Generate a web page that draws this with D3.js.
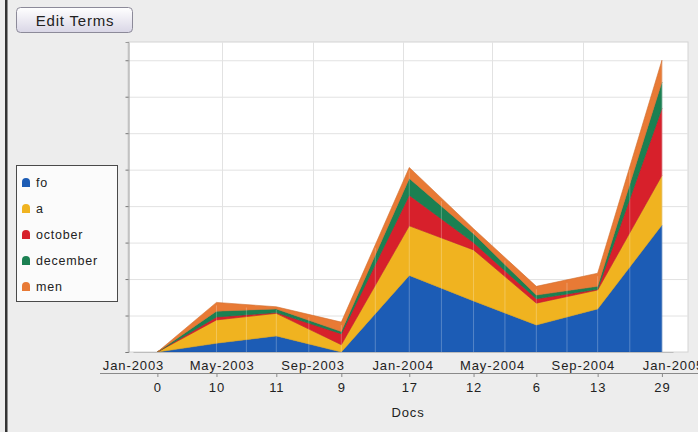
<!DOCTYPE html>
<html>
<head>
<meta charset="utf-8">
<script src="https://cdn.jsdelivr.net/npm/d3@7/dist/d3.min.js"></script>
<style>
  html, body { margin: 0; padding: 0; background: #ededed; }
  svg { display: block; }
  text { font-family: "Liberation Sans", Arial, sans-serif; fill: #222; }
</style>
</head>
<body>
<svg id="chart" width="698" height="432"></svg>
<script>
// ---- data ----
const dates = ["2003-02-03", "2003-04-24", "2003-07-14", "2003-10-10", "2004-01-10",
               "2004-04-06", "2004-06-30", "2004-09-21", "2004-12-17"];
const docs = [0, 10, 11, 9, 17, 12, 6, 13, 29];
const terms = ["fo", "a", "october", "december", "men"];
const fo       = [0, 1.2, 2.2, 0.0, 10.5, 7.0, 3.7, 5.9, 17.4];
const a        = [0, 3.2, 3.1, 1.0, 6.8, 7.0, 3.0, 2.6, 6.8];
const october  = [0, 0.4, 0.1, 1.5, 4.2, 1.0, 0.6, 0.1, 9.2];
const december = [0, 0.8, 0.5, 0.3, 2.3, 1.2, 0.5, 0.4, 3.6];
const men      = [0, 1.2, 0.3, 1.3, 1.5, 0.7, 1.2, 1.8, 3.0];
const dateTicks = ["2003-01-01", "2003-05-01", "2003-09-01", "2004-01-01",
                   "2004-05-01", "2004-09-01", "2005-01-01"];
const yTicks = [0, 5, 10, 15, 20, 25, 30, 35, 40];
const colors = ["#1c5cb5", "#f0b320", "#d7202b", "#1b8052", "#e87a35"];

// ---- layout ----
const svg = d3.select("#chart");
const parse = d3.utcParse("%Y-%m-%d");
const seriesArr = [fo, a, october, december, men];
const rows = dates.map((d, i) => {
  const r = { date: parse(d), docs: docs[i] };
  terms.forEach((t, k) => r[t] = seriesArr[k][i]);
  return r;
});

const plot = { left: 128, top: 42, right: 688, bottom: 352 };
const x = d3.scaleUtc()
  .domain([parse("2003-01-01"), parse("2005-01-01")])
  .range([133, 673]);
const y = d3.scaleLinear().domain([0, 42.5]).range([plot.bottom, plot.top]);

// left frame line
svg.append("rect").attr("x", 5).attr("y", 0).attr("width", 2.5).attr("height", 432).attr("fill", "#333");

// Edit Terms button
const grad = svg.append("defs").append("linearGradient").attr("id", "btn").attr("x1", 0).attr("y1", 0).attr("x2", 0).attr("y2", 1);
grad.append("stop").attr("offset", "0%").attr("stop-color", "#ffffff");
grad.append("stop").attr("offset", "100%").attr("stop-color", "#d9d6e6");
svg.append("rect").attr("x", 16.5).attr("y", 7.5).attr("width", 116).attr("height", 25).attr("rx", 4)
  .attr("fill", "url(#btn)").attr("stroke", "#8c8a99");
svg.append("text").attr("x", 75).attr("y", 26).attr("text-anchor", "middle")
  .style("font-size", "15px").style("letter-spacing", "0.8px").text("Edit Terms");

// plot background
svg.append("rect").attr("x", plot.left).attr("y", plot.top)
  .attr("width", plot.right - plot.left).attr("height", plot.bottom - plot.top)
  .attr("fill", "#ffffff").attr("stroke", "#d4d4d4");

// gridlines
svg.append("g").selectAll("line").data(yTicks.slice(1)).join("line")
  .attr("x1", plot.left).attr("x2", plot.right)
  .attr("y1", d => y(d) + 0.5).attr("y2", d => y(d) + 0.5)
  .attr("stroke", "#e2e2e2");
svg.append("g").selectAll("line").data(dateTicks.slice(1, -1)).join("line")
  .attr("x1", d => Math.round(x(parse(d))) + 0.5).attr("x2", d => Math.round(x(parse(d))) + 0.5)
  .attr("y1", plot.top).attr("y2", plot.bottom)
  .attr("stroke", "#e2e2e2");

// stacked areas
const stack = d3.stack().keys(terms);
const layers = stack(rows);
const area = d3.area()
  .x(d => x(d.data.date))
  .y0(d => y(d[0]))
  .y1(d => y(d[1]));
svg.append("g").selectAll("path").data(layers).join("path")
  .attr("d", area)
  .attr("fill", (d, i) => colors[i])
  .attr("stroke", (d, i) => d3.color(colors[i]).darker(0.3))
  .attr("stroke-width", 0.6)
  .attr("stroke-linejoin", "round");

// faint seams over the areas at points and midpoints
const seams = [];
rows.forEach((r, i) => {
  if (i > 0) seams.push({ t: r.date, top: d3.sum(terms, k => r[k]) });
  if (i < rows.length - 1) {
    const n = rows[i + 1];
    seams.push({
      t: new Date((r.date.getTime() + n.date.getTime()) / 2),
      top: (d3.sum(terms, k => r[k]) + d3.sum(terms, k => n[k])) / 2
    });
  }
});
svg.append("g").selectAll("line").data(seams.slice(1)).join("line")
  .attr("x1", d => x(d.t)).attr("x2", d => x(d.t))
  .attr("y1", d => y(d.top) + 3).attr("y2", plot.bottom)
  .attr("stroke", "#ffffff").attr("stroke-opacity", 0.25).attr("stroke-width", 1);

// y axis (no labels)
const yAxis = svg.append("g").attr("transform", `translate(${plot.left + 0.5},0)`)
  .call(d3.axisLeft(y).tickValues(yTicks).tickSize(3).tickFormat(""));
yAxis.select(".domain").attr("stroke", "#9a9a9a");
yAxis.selectAll(".tick line").attr("stroke", "#777");

// date axis
const xAxis = svg.append("g").attr("transform", `translate(0,${plot.bottom})`)
  .call(d3.axisBottom(x).tickValues(dateTicks.map(parse)).tickSize(0).tickPadding(9)
    .tickFormat(d3.utcFormat("%b-%Y")));
xAxis.select(".domain").attr("stroke", "#bdbdbd");
xAxis.selectAll("text").style("font-size", "13px").style("letter-spacing", "0.9px")
  .style("font-family", "'Liberation Sans', Arial, sans-serif").attr("fill", "#222");

// docs axis
const docsY = 373;
svg.append("line").attr("x1", 100).attr("x2", 698).attr("y1", docsY + 0.5).attr("y2", docsY + 0.5)
  .attr("stroke", "#8a8a8a");
const dAxis = svg.append("g").attr("transform", `translate(0,${docsY})`)
  .call(d3.axisBottom(x).tickValues(rows.map(r => r.date)).tickSize(4).tickPadding(6)
    .tickFormat((d, i) => String(docs[i])));
dAxis.select(".domain").remove();
dAxis.selectAll(".tick line").attr("stroke", "#8a8a8a");
dAxis.selectAll("text").style("font-size", "13px").style("letter-spacing", "0.9px")
  .style("font-family", "'Liberation Sans', Arial, sans-serif").attr("fill", "#222");
svg.append("text").attr("x", 408).attr("y", 417).attr("text-anchor", "middle")
  .style("font-size", "13px").style("letter-spacing", "0.9px").text("Docs");

// legend
const lg = svg.append("g");
lg.append("rect").attr("x", 16.5).attr("y", 165.5).attr("width", 101).attr("height", 136)
  .attr("fill", "#fbfbfb").attr("stroke", "#4a4a4a");
const item = lg.selectAll("g.item").data(terms).join("g").attr("class", "item")
  .attr("transform", (d, i) => `translate(22,${178 + i * 26})`);
item.append("path")
  .attr("d", "M0,9 L0,4 A4,4 0 0 1 8,4 L8,9 Z")
  .attr("fill", (d, i) => colors[i]);
item.append("text").attr("x", 14).attr("y", 9)
  .style("font-size", "12.5px").style("letter-spacing", "0.8px").attr("fill", "#333")
  .text(d => d);
</script>
</body>
</html>
